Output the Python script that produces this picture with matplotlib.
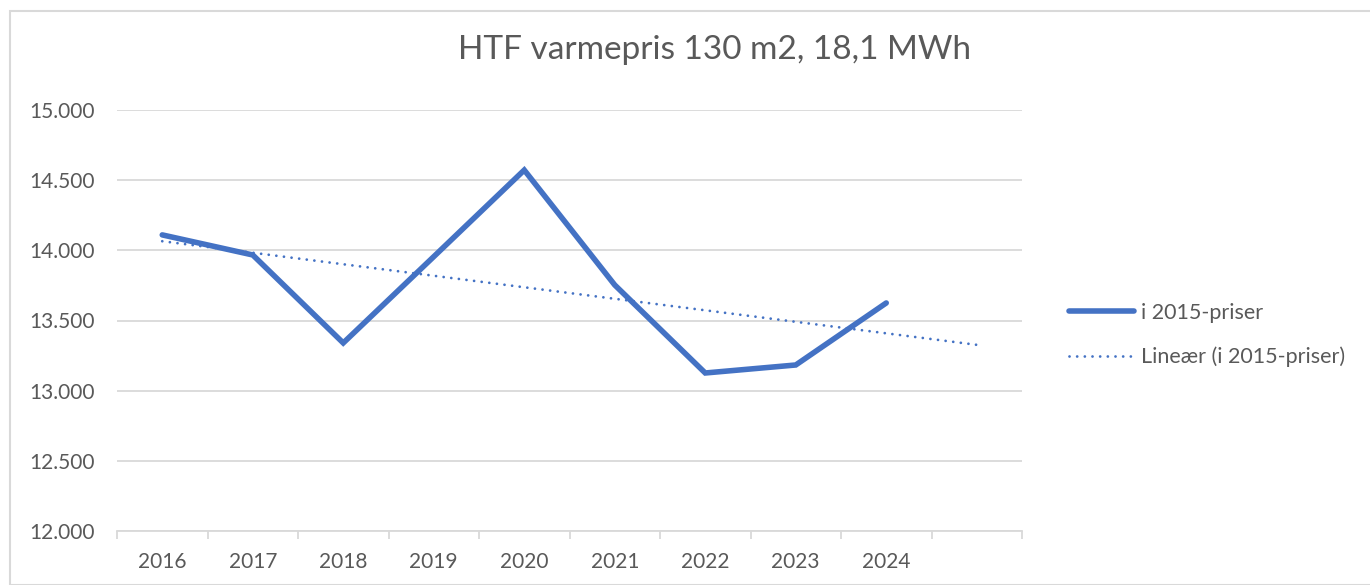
import matplotlib
matplotlib.use("Agg")
import matplotlib.pyplot as plt
import numpy as np
from matplotlib.ticker import FuncFormatter, FixedLocator
from matplotlib.patches import Rectangle

years = ["2016", "2017", "2018", "2019", "2020", "2021", "2022", "2023", "2024"]
values = [14110, 13967, 13340, 13955, 14572, 13753, 13126, 13183, 13625]
title = "HTF varmepris 130 m2, 18,1 MWh"
series_name = "i 2015-priser"
trend_name = "Lineær (i 2015-priser)"
y_ticks = [12000, 12500, 13000, 13500, 14000, 14500, 15000]

W, H = 1370, 585
fig = plt.figure(figsize=(W / 100, H / 100), dpi=100)
plt.rcParams['font.family'] = ['Lato', 'DejaVu Sans']
text_color = "#595959"
blue = "#4472C4"
grid_color = "#D9D9D9"

# chart border
fig.patches.append(Rectangle((10 / W, 0), 1.5, (H - 11) / H, transform=fig.transFigure,
                             fill=False, edgecolor="#D9D9D9", lw=1.5))

left, right, top, bottom = 117, 1022, 110, 531
ax = fig.add_axes([left / W, (H - bottom) / H, (right - left) / W, (bottom - top) / H])

x = np.arange(len(years))
ax.plot(x, values, color=blue, lw=4.0, solid_capstyle='round', solid_joinstyle='miter',
        label=series_name, zorder=3)

# linear trendline with 1 period forward forecast
coef = np.polyfit(x, values, 1)
xt = np.array([0, len(years)])
ax.plot(xt, np.polyval(coef, xt), color=blue, lw=2.0, linestyle=(0, (0.01, 2.75)),
        dash_capstyle='round', label=trend_name, zorder=2)

ax.set_xlim(-0.5, len(years) + 0.5)
ax.set_ylim(12000, 15000)
ax.yaxis.set_major_locator(FixedLocator(y_ticks))
ax.yaxis.set_major_formatter(FuncFormatter(lambda v, p: f"{int(v):,}".replace(",", ".")))
ax.set_xticks(x)
ax.set_xticklabels(years)
ax.set_xticks(np.arange(-0.5, len(years) + 1, 1), minor=True)

for s in ["top", "right", "left"]:
    ax.spines[s].set_visible(False)
ax.spines["bottom"].set_color(grid_color)
ax.spines["bottom"].set_linewidth(1.3)
ax.grid(axis='y', color=grid_color, lw=1.3)
ax.set_axisbelow(True)
ax.tick_params(axis='y', length=0, labelsize=15, labelcolor=text_color, pad=16)
ax.tick_params(axis='x', which='major', length=0, labelsize=15, labelcolor=text_color, pad=15)
ax.tick_params(axis='x', which='minor', length=6, color=grid_color, width=1.3)

fig.text(715 / W, (H - 50) / H, title, ha='center', va='center', fontsize=24, color=text_color)

leg = fig.legend(loc='center left', bbox_to_anchor=(1050 / W, (H - 335) / H), frameon=False,
                 fontsize=15.5, labelcolor=text_color, handlelength=3.0, handletextpad=0.35,
                 labelspacing=1.1)

fig.savefig("out.png", dpi=100)
